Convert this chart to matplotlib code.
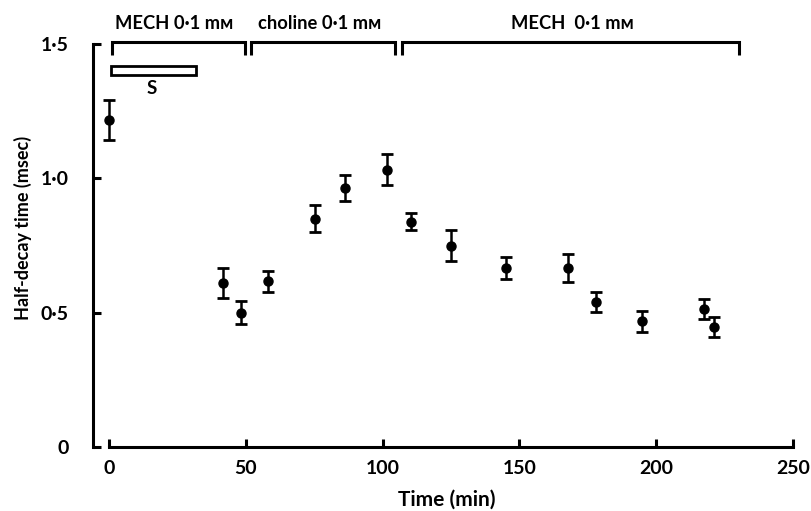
import matplotlib
matplotlib.use('Agg')
import matplotlib.pyplot as plt
from matplotlib.patches import Rectangle

plt.rcParams['font.family'] = ['Lato', 'DejaVu Sans']
plt.rcParams['font.weight'] = 'bold'
plt.rcParams['axes.labelweight'] = 'bold'

# data
time_min = [0, 41.6, 48.4, 58.2, 75.3, 86.3, 101.6, 110.3, 124.9, 145.0, 167.6, 178.0, 194.9, 217.6, 221.2]
half_decay = [1.218, 0.612, 0.500, 0.617, 0.850, 0.963, 1.033, 0.838, 0.749, 0.667, 0.667, 0.540, 0.468, 0.515, 0.447]
sem = [0.074, 0.056, 0.042, 0.040, 0.051, 0.048, 0.056, 0.032, 0.057, 0.042, 0.052, 0.037, 0.040, 0.037, 0.036]

# drug periods (brackets at top)
period_labels = ['MECH 0·1 mᴍ', 'choline 0·1 mᴍ', 'MECH  0·1 mᴍ']
period_start = [1.1, 51.8, 107.2]
period_end = [49.7, 104.5, 230.3]
label_x = [23.8, 77.1, 169.2]

# stimulation bar S
s_start, s_end = 0.7, 31.8

fig = plt.figure(figsize=(8.11, 5.11), dpi=100)
ax = fig.add_axes([0.1074, 0.1094, 0.8873, 0.8675])

ax.errorbar(time_min, half_decay, yerr=sem, fmt='o', color='black',
            markersize=6.5, elinewidth=1.8, capsize=4, capthick=2)

# brackets
for x0, x1, lab, lx in zip(period_start, period_end, period_labels, label_x):
    ax.plot([x0, x0, x1, x1], [1.459, 1.506, 1.506, 1.459], color='black',
            lw=2.2, solid_capstyle='butt', solid_joinstyle='miter', clip_on=False)
    ax.text(lx, 1.578, lab, ha='center', va='center', fontsize=13.2, clip_on=False)

ax.add_patch(Rectangle((s_start, 1.386), s_end - s_start, 0.031, facecolor='white',
                       edgecolor='black', lw=2, clip_on=False))
ax.text(15.7, 1.336, 'S', ha='center', va='center', fontsize=13.5)

ax.set_xlim(-8, 255)
ax.set_ylim(-0.03, 1.62)

for s in ['top', 'right']:
    ax.spines[s].set_visible(False)
ax.spines['left'].set_position(('data', -6))
ax.spines['left'].set_bounds(0, 1.5)
ax.spines['bottom'].set_position(('data', 0))
ax.spines['bottom'].set_bounds(0, 250)
ax.spines['left'].set_linewidth(2.2)
ax.spines['bottom'].set_linewidth(2.2)

ax.set_xticks([0, 50, 100, 150, 200, 250])
ax.set_yticks([0, 0.5, 1.0, 1.5])
ax.set_yticklabels(['0', '0·5', '1·0', '1·5'])
ax.tick_params(axis='both', direction='in', width=2.2, length=6, labelsize=14)
ax.tick_params(axis='x', pad=9)
ax.tick_params(axis='y', pad=17)

ax.set_xlabel('Time (min)', fontsize=15)
ax.set_ylabel('Half-decay time (msec)', fontsize=13)
ax.yaxis.set_label_coords(-0.076, 0.512)
ax.xaxis.set_label_coords(0.5, -0.079)

fig.savefig('out.png', dpi=100)
